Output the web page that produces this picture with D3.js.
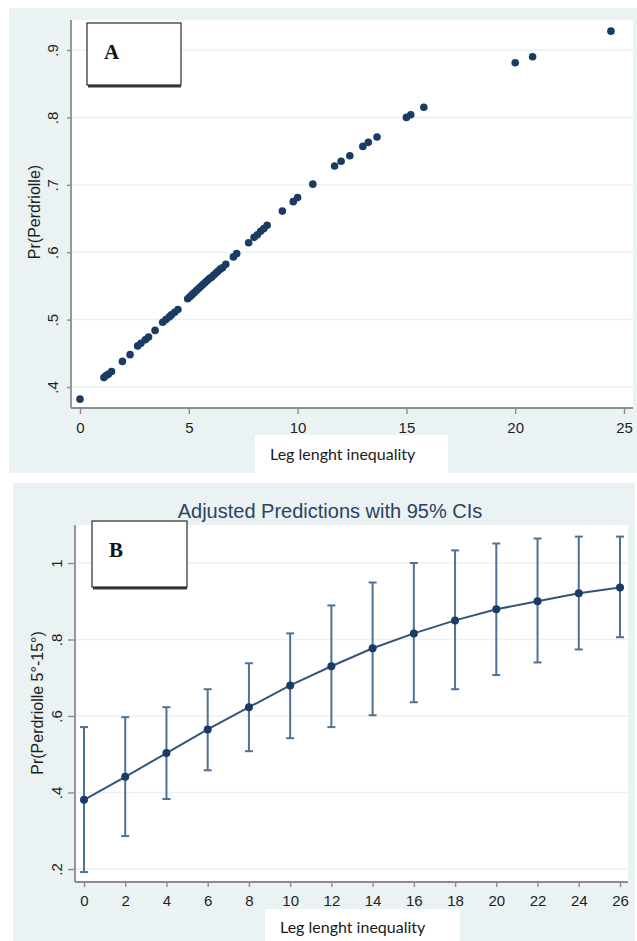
<!DOCTYPE html>
<html>
<head>
<meta charset="utf-8">
<script src="https://cdn.jsdelivr.net/npm/d3@7"></script>
<style>
  body { margin: 0; background: #fff; }
  svg { display: block; }
</style>
</head>
<body>
<div id="chart"></div>
<script>
'use strict';

// panel A: predicted probability per patient
const scatterX = [0, 1.1, 1.2, 1.3, 1.45, 1.95, 2.3, 2.65, 2.8, 3.0, 3.15, 3.45, 3.8, 3.95, 4.1, 4.2, 4.35, 4.5,
    4.95, 5.05, 5.15, 5.25, 5.35, 5.45, 5.55, 5.65, 5.75, 5.85, 5.95, 6.05, 6.15, 6.25, 6.35, 6.45, 6.55, 6.7,
    7.05, 7.2, 7.75, 8.0, 8.15, 8.3, 8.45, 8.6, 9.3, 9.8, 10.0, 10.7, 11.7, 12.0, 12.4, 13.0, 13.25, 13.65,
    15.0, 15.2, 15.8, 20.0, 20.8, 24.4];
const scatterP = [0.382, 0.414, 0.417, 0.419, 0.423, 0.438, 0.448, 0.461, 0.465, 0.470, 0.474, 0.484, 0.496, 0.500, 0.504, 0.507, 0.511, 0.515,
    0.531, 0.534, 0.537, 0.540, 0.543, 0.546, 0.549, 0.552, 0.555, 0.558, 0.561, 0.563, 0.566, 0.569, 0.572, 0.575, 0.577, 0.582,
    0.593, 0.598, 0.614, 0.622, 0.626, 0.631, 0.635, 0.640, 0.661, 0.675, 0.681, 0.701, 0.728, 0.735, 0.743, 0.757, 0.763, 0.771,
    0.800, 0.804, 0.815, 0.881, 0.890, 0.928];
const topXTicks = [0, 5, 10, 15, 20, 25];
const topYTicks = [0.4, 0.5, 0.6, 0.7, 0.8, 0.9];

// panel B: adjusted predictions with 95% CIs
const marginX = [0, 2, 4, 6, 8, 10, 12, 14, 16, 18, 20, 22, 24, 26];
const marginP = [0.381, 0.441, 0.503, 0.565, 0.623, 0.680, 0.730, 0.777, 0.816, 0.850, 0.879, 0.900, 0.921, 0.936];
const ciLow = [0.192, 0.286, 0.383, 0.458, 0.508, 0.542, 0.571, 0.602, 0.636, 0.670, 0.707, 0.740, 0.774, 0.806];
const ciHigh = [0.571, 0.597, 0.623, 0.670, 0.738, 0.816, 0.889, 0.949, 1.000, 1.033, 1.051, 1.064, 1.069, 1.069];
const bottomXTicks = d3.range(0, 27, 2);
const bottomYTicks = [0.2, 0.4, 0.6, 0.8, 1];

const width = 637, height = 941;
const bgColor = "#eaf2f3";
const axisColor = "#8c8c8c";
const markColor = "#1a3b63";
const tickFont = "'Liberation Sans', Arial, sans-serif";

const svg = d3.select("#chart")
    .append("svg")
    .attr("width", width)
    .attr("height", height)
    .attr("viewBox", [0, 0, width, height]);

// Stata style: ".4", ".9", "1"
const fmtTick = d => String(d).replace(/^0/, "");

function drawPanel(p) {
    const g = svg.append("g");
    g.append("rect")
        .attr("x", p.bg[0]).attr("y", p.bg[1]).attr("width", p.bg[2]).attr("height", p.bg[3])
        .attr("fill", bgColor);
    g.append("rect")
        .attr("x", p.plot.left).attr("y", p.plot.top)
        .attr("width", p.plot.right - p.plot.left).attr("height", p.plot.bottom - p.plot.top)
        .attr("fill", "#fff");

    g.append("g")
        .selectAll("line")
        .data(p.yTicks)
        .join("line")
            .attr("x1", p.plot.left)
            .attr("x2", p.plot.right)
            .attr("y1", d => p.y(d))
            .attr("y2", d => p.y(d))
            .attr("stroke", bgColor)
            .attr("stroke-width", 1.5);

    const xAxis = g.append("g")
        .attr("transform", `translate(0, ${p.plot.bottom})`)
        .call(d3.axisBottom(p.x).tickValues(p.xTicks).tickSize(p.xTickSize).tickSizeOuter(0))
        .call(a => a.select(".domain").remove());
    xAxis.selectAll(".tick line").attr("stroke", axisColor).attr("stroke-width", 1.4);
    xAxis.selectAll(".tick text")
        .attr("y", p.xLabelY)
        .attr("fill", "#1e1e1e")
        .style("font", `${p.tickFontSize}px ${tickFont}`);

    const yAxis = g.append("g")
        .attr("transform", `translate(${p.plot.left}, 0)`)
        .call(d3.axisLeft(p.y).tickValues(p.yTicks).tickFormat(fmtTick).tickSize(p.yTickSize).tickSizeOuter(0))
        .call(a => a.select(".domain").remove());
    yAxis.selectAll(".tick line").attr("stroke", axisColor).attr("stroke-width", 1.4);
    yAxis.selectAll(".tick text")
        .attr("x", null)
        .attr("dy", null)
        .attr("transform", `translate(${-p.yLabelGap}, 0) rotate(-90)`)
        .attr("text-anchor", "middle")
        .attr("fill", "#1e1e1e")
        .style("font", `${p.tickFontSize}px ${tickFont}`);

    g.append("line")
        .attr("x1", p.plot.left).attr("x2", p.plot.left)
        .attr("y1", p.plot.top).attr("y2", p.plot.bottom)
        .attr("stroke", axisColor).attr("stroke-width", 1.8);
    g.append("line")
        .attr("x1", p.plot.left).attr("x2", p.plot.right)
        .attr("y1", p.plot.bottom).attr("y2", p.plot.bottom)
        .attr("stroke", axisColor).attr("stroke-width", 1.8);

    g.append("text")
        .attr("transform", `translate(${p.yTitle[0]}, ${p.yTitle[1]}) rotate(-90)`)
        .attr("text-anchor", "middle")
        .attr("fill", "#1e1e1e")
        .style("font", `16px ${tickFont}`)
        .text(p.yTitleText);

    // pasted x-axis title
    g.append("rect")
        .attr("x", p.xTitleBox[0]).attr("y", p.xTitleBox[1])
        .attr("width", p.xTitleBox[2]).attr("height", p.xTitleBox[3])
        .attr("fill", "#fff");
    g.append("text")
        .attr("x", p.xTitleBox[0] + 15)
        .attr("y", p.xTitleBox[1] + p.xTitleBaseline)
        .attr("fill", "#1a1a1a")
        .style("font", "16px Lato, 'Open Sans', sans-serif")
        .text("Leg lenght inequality");

    // letter box with a drop shadow underneath
    const b = p.letterBox;
    g.append("rect")
        .attr("x", b[0] + 1).attr("y", b[1] + 2.5).attr("width", b[2] - 1).attr("height", b[3])
        .attr("fill", "#3a3a3a");
    g.append("rect")
        .attr("x", b[0]).attr("y", b[1]).attr("width", b[2]).attr("height", b[3])
        .attr("fill", "#fff")
        .attr("stroke", "#2a2a2a")
        .attr("stroke-width", 1.2);
    g.append("text")
        .attr("x", b[0] + 17)
        .attr("y", b[1] + 36)
        .attr("fill", "#111")
        .style("font", "bold 21px 'Liberation Serif', 'Times New Roman', serif")
        .text(p.letter);

    return g;
}

// ---- panel A ----
const topX = d3.scaleLinear().domain([0, 25]).range([80, 624]);
const topY = d3.scaleLinear().domain([0.4, 0.9]).range([387, 50]);

const gTop = drawPanel({
    bg: [9, 8, 628, 465],
    plot: {left: 71, right: 633, top: 20, bottom: 408},
    x: topX, y: topY,
    xTicks: topXTicks, yTicks: topYTicks,
    xTickSize: 6, yTickSize: 4,
    xLabelY: 14, yLabelGap: 13,
    tickFontSize: 15,
    yTitle: [40, 212], yTitleText: "Pr(Perdriolle)",
    xTitleBox: [255, 435, 193, 38], xTitleBaseline: 25,
    letterBox: [87, 23, 94, 62], letter: "A"
});

gTop.append("g")
    .selectAll("circle")
    .data(d3.zip(scatterX, scatterP))
    .join("circle")
        .attr("cx", d => topX(d[0]))
        .attr("cy", d => topY(d[1]))
        .attr("r", 3.8)
        .attr("fill", markColor);

// ---- panel B ----
const botX = d3.scaleLinear().domain([0, 26]).range([84, 620]);
const botY = d3.scaleLinear().domain([0.2, 1]).range([869, 563]);

const gBot = drawPanel({
    bg: [13, 483, 622, 458],
    plot: {left: 75, right: 628, top: 525, bottom: 882},
    x: botX, y: botY,
    xTicks: bottomXTicks, yTicks: bottomYTicks,
    xTickSize: 5, yTickSize: 7,
    xLabelY: 13, yLabelGap: 13,
    tickFontSize: 15,
    yTitle: [43, 703], yTitleText: "Pr(Perdriolle 5°-15°)",
    xTitleBox: [265, 909, 195, 32], xTitleBaseline: 24,
    letterBox: [92, 521, 95, 66], letter: "B"
});

gBot.append("text")
    .attr("x", 330)
    .attr("y", 518)
    .attr("text-anchor", "middle")
    .attr("fill", "#2b4262")
    .style("font", `20px ${tickFont}`)
    .text("Adjusted Predictions with 95% CIs");

const margins = marginX.map((x, i) => ({x: x, p: marginP[i], lo: ciLow[i], hi: ciHigh[i]}));

const ci = gBot.append("g")
    .attr("stroke", "#4f7294")
    .attr("stroke-width", 2);
ci.selectAll("line.bar")
    .data(margins)
    .join("line")
        .attr("class", "bar")
        .attr("x1", d => botX(d.x)).attr("x2", d => botX(d.x))
        .attr("y1", d => botY(d.lo)).attr("y2", d => botY(d.hi));
ci.selectAll("line.capHi")
    .data(margins)
    .join("line")
        .attr("class", "capHi")
        .attr("x1", d => botX(d.x) - 4).attr("x2", d => botX(d.x) + 4)
        .attr("y1", d => botY(d.hi)).attr("y2", d => botY(d.hi));
ci.selectAll("line.capLo")
    .data(margins)
    .join("line")
        .attr("class", "capLo")
        .attr("x1", d => botX(d.x) - 4).attr("x2", d => botX(d.x) + 4)
        .attr("y1", d => botY(d.lo)).attr("y2", d => botY(d.lo));

gBot.append("path")
    .datum(margins)
    .attr("fill", "none")
    .attr("stroke", "#34557a")
    .attr("stroke-width", 2)
    .attr("d", d3.line().x(d => botX(d.x)).y(d => botY(d.p)));

gBot.append("g")
    .selectAll("circle")
    .data(margins)
    .join("circle")
        .attr("cx", d => botX(d.x))
        .attr("cy", d => botY(d.p))
        .attr("r", 4)
        .attr("fill", markColor);
</script>
</body>
</html>
